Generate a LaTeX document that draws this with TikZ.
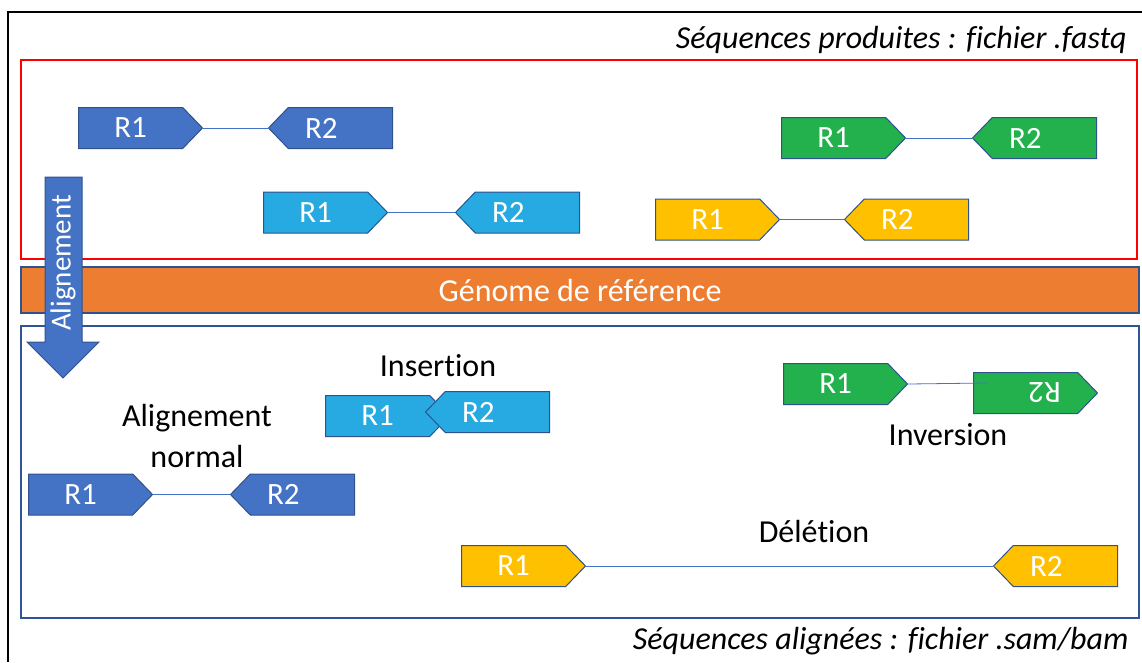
\documentclass[tikz,border=0pt]{standalone}
\usepackage{fontspec}
\setmainfont[RawFeature={-liga}]{Carlito}
\usetikzlibrary{shapes.symbols}
\definecolor{dkblue}{HTML}{4472C4}
\definecolor{dkedge}{HTML}{2F528F}
\definecolor{ltblue}{HTML}{27AAE1}
\definecolor{gnread}{HTML}{22B14C}
\definecolor{ywread}{HTML}{FFC000}
\definecolor{orbar}{HTML}{ED7D31}
\definecolor{frameblue}{HTML}{2F5597}
\tikzset{
	readbox/.style={signal, draw=dkedge, line width=1pt, fill=#1, text=white,
		minimum width=124pt, minimum height=41pt, inner sep=0pt,
		signal pointer angle=92, font=\fontsize{31}{31}\selectfont},
	fwdread/.style={readbox=#1, signal to=east, signal from=nowhere, anchor=west},
	revread/.style={readbox=#1, signal to=west, signal from=nowhere, anchor=east,
		execute at end node=\hspace*{38pt}},
	pairline/.style={dkblue, line width=0.8pt},
	lbl/.style={font=\fontsize{32}{41}\selectfont, align=center},
}
\begin{document}
\begin{tikzpicture}[x=1pt,y=-1pt]
\useasboundingbox (0,0) rectangle (1142,662);
% frames
\draw[line width=2pt] (8,662) -- (8,12) -- (1142,12);
\draw[red, line width=1.2pt] (21,60) rectangle (1137,259);
\draw[frameblue, line width=1.5pt] (21,326) rectangle (1139,618);
\node[draw=dkedge, line width=1.5pt, fill=orbar, text=white, minimum width=1118pt, minimum height=46pt,
	font=\fontsize{32}{32}\selectfont] (genome) at (580,290) {Génome de référence};
\node[lbl, anchor=east, font=\fontsize{32}{32}\selectfont\itshape] (fastq) at (1130,40) {Séquences produites : fichier .fastq};
\node[lbl, anchor=east, font=\fontsize{32}{32}\selectfont\itshape] (sam) at (1132,641) {Séquences alignées : fichier .sam/bam};
% sequenced pairs (fwd at left edge, rev at right edge)
\node[fwdread=dkblue] (dkR1) at (78,128) {R1};
\node[revread=dkblue] (dkR2) at (393,128) {R2};
\node[fwdread=ltblue] (ltR1) at (263,212.5) {R1};
\node[revread=ltblue] (ltR2) at (580,212.5) {R2};
\node[fwdread=gnread] (gnR1) at (781,138) {R1};
\node[revread=gnread] (gnR2) at (1097,138) {R2};
\node[fwdread=ywread] (ywR1) at (655,219.5) {R1};
\node[revread=ywread] (ywR2) at (969,219.5) {R2};
\foreach \p in {dk,lt,gn,yw}
	\draw[pairline] (\p R1.east) -- (\p R2.west);
% alignment arrow
\draw[fill=dkblue, draw=dkedge, line width=1pt] (45,177) -- (82,177) -- (82,342) -- (99,342)
	-- (63,378) -- (27,342) -- (45,342) -- cycle;
\node[rotate=90, text=white, font=\fontsize{29}{29}\selectfont] (align) at (63,263) {Alignement};
% aligned pairs
\node[lbl] (normal) at (197,436) {Alignement\\normal};
\node[fwdread=dkblue] (nmR1) at (28,494.5) {R1};
\node[revread=dkblue] (nmR2) at (355,494.5) {R2};
\draw[pairline] (nmR1.east) -- (nmR2.west);
\node[lbl] (insert) at (438,366) {Insertion};
\node[fwdread=ltblue] (inR1) at (325,416) {R1};
\node[revread=ltblue] (inR2) at (550,412) {R2};
\node[lbl] (invert) at (948,435) {Inversion};
\node[fwdread=gnread] (ivR1) at (783,384) {R1};
\node[revread=gnread, rotate=180] (ivR2) at (973,393) {R2};
\coordinate (ivend) at (987,383);
\draw[pairline] (ivR1.east) -- (ivend);
\node[lbl] (delete) at (814,531) {Délétion};
\node[fwdread=ywread] (dlR1) at (461,566) {R1};
\node[revread=ywread] (dlR2) at (1118,566) {R2};
\draw[pairline] (dlR1.east) -- (dlR2.west);
\end{tikzpicture}
\end{document}
